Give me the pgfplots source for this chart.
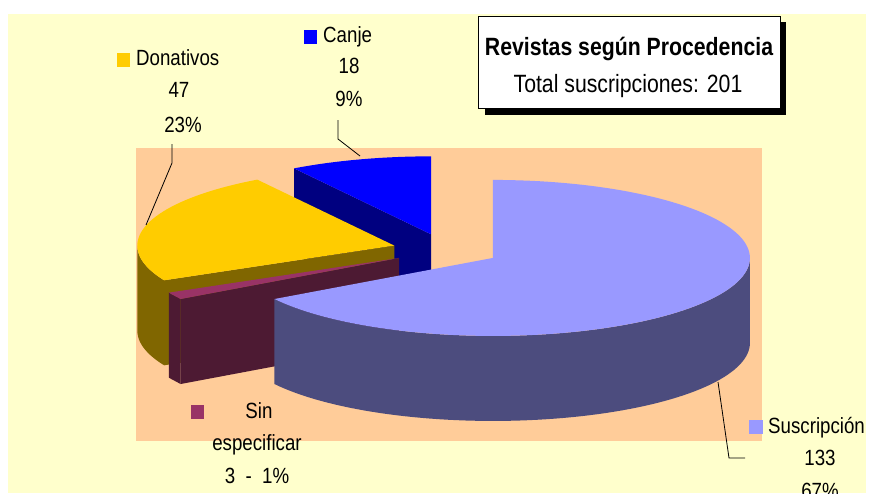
\documentclass[border=0pt]{standalone}
\usepackage{pgfplots}
\pgfplotsset{compat=1.18}
\usepackage{fontspec}
\setmainfont{Liberation Sans}[FakeStretch=0.85]
\definecolor{bgY}{HTML}{FFFFCC}
\definecolor{plotO}{HTML}{FFCC99}
\definecolor{suTop}{HTML}{9999FF}
\definecolor{suSide}{HTML}{4C4C7E}
\definecolor{caTop}{HTML}{0000FF}
\definecolor{caSide}{HTML}{000080}
\definecolor{doTop}{HTML}{FFCC00}
\definecolor{doSide}{HTML}{806600}
\definecolor{siTop}{HTML}{993366}
\definecolor{siSide}{HTML}{4D1A33}
% rim point of a slice: apex x, apex y, angle, vertical drop
\newcommand\rim[4]{({#1+\Rx*cos(#3)},{#2-\Ry*sin(#3)+#4})}
\begin{document}
\begin{tikzpicture}
% data: Canje, Donativos, Sin especificar, Suscripcion
\def\vCa{18}\def\vDo{47}\def\vSi{3}\def\vSu{133}
\pgfmathsetmacro\tot{\vCa+\vDo+\vSi+\vSu}
\pgfmathsetmacro\aA{90}
\pgfmathsetmacro\aB{\aA+\vCa/\tot*360}
\pgfmathsetmacro\aC{\aB+\vDo/\tot*360}
\pgfmathsetmacro\aD{\aC+\vSi/\tot*360}
\pgfmathsetmacro\aE{\aD+\vSu/\tot*360}
\pgfmathsetmacro\aAs{\aA+2}
\pgfmathsetmacro\aAss{\aA+4}
\pgfmathsetmacro\aBs{\aB+2}
\pgfmathsetmacro\aBss{\aB+4}
\pgfmathsetmacro\aCs{\aC+1}
\pgfmathsetmacro\aCm{\aC-2}
\pgfmathsetmacro\aCmm{\aC-4}
\pgfmathsetmacro\aDs{\aD+2}
\pgfmathsetmacro\aDss{\aD+4}
\def\Rx{257}\def\Ry{78}\def\Hd{85}\def\Ex{0.209}\def\Cx{446}\def\Cy{250}
\pgfmathsetmacro\CaX{\Cx+\Ex*\Rx*cos((\aA+\aB)/2)}
\pgfmathsetmacro\CaY{\Cy-\Ex*\Ry*sin((\aA+\aB)/2)}
\pgfmathsetmacro\DoX{\Cx+\Ex*\Rx*cos((\aB+\aC)/2)}
\pgfmathsetmacro\DoY{\Cy-\Ex*\Ry*sin((\aB+\aC)/2)}
\pgfmathsetmacro\SiX{\Cx+\Ex*\Rx*cos((\aC+\aD)/2)}
\pgfmathsetmacro\SiY{\Cy-\Ex*\Ry*sin((\aC+\aD)/2)}
\pgfmathsetmacro\SuX{\Cx+\Ex*\Rx*cos((\aD+\aE)/2)}
\pgfmathsetmacro\SuY{\Cy-\Ex*\Ry*sin((\aD+\aE)/2)}
\path[use as bounding box] (0,0) rectangle (872pt,493pt);
\begin{scope}
\clip (0,0) rectangle (872pt,493pt);
\begin{axis}[at={(0,0)},anchor=south west,scale only axis,width=872pt,height=493pt,
  xmin=0,xmax=872,ymin=0,ymax=493,y dir=reverse,hide axis,clip=false]
\fill[bgY] (8,14) rectangle (866,493);
\fill[plotO] (136,148) rectangle (762,441);
% ---- Canje
\fill[caSide] (\CaX,\CaY) -- \rim{\CaX}{\CaY}{\aB}{0} -- \rim{\CaX}{\CaY}{\aB}{\Hd} -- (\CaX,{\CaY+\Hd}) -- cycle;
\fill[caTop] (\CaX,\CaY) -- \rim{\CaX}{\CaY}{\aA}{0} \foreach \ang in {\aAs,\aAss,...,\aB} { -- \rim{\CaX}{\CaY}{\ang}{0} } -- \rim{\CaX}{\CaY}{\aB}{0} -- cycle;
% ---- Donativos
\fill[doSide] (\DoX,\DoY) -- \rim{\DoX}{\DoY}{\aC}{0} -- \rim{\DoX}{\DoY}{\aC}{\Hd} -- (\DoX,{\DoY+\Hd}) -- cycle;
\fill[doSide] \rim{\DoX}{\DoY}{180}{0} \foreach \ang in {182,184,...,\aC} { -- \rim{\DoX}{\DoY}{\ang}{0} } -- \rim{\DoX}{\DoY}{\aC}{0}
   -- \rim{\DoX}{\DoY}{\aC}{\Hd} \foreach \ang in {\aCm,\aCmm,...,180} { -- \rim{\DoX}{\DoY}{\ang}{\Hd} } -- \rim{\DoX}{\DoY}{180}{\Hd} -- cycle;
\fill[doTop] (\DoX,\DoY) -- \rim{\DoX}{\DoY}{\aB}{0} \foreach \ang in {\aBs,\aBss,...,\aC} { -- \rim{\DoX}{\DoY}{\ang}{0} } -- \rim{\DoX}{\DoY}{\aC}{0} -- cycle;
% ---- Sin especificar
\fill[siSide] \rim{\SiX}{\SiY}{\aC}{0} -- \rim{\SiX}{\SiY}{\aCs}{0} -- \rim{\SiX}{\SiY}{\aD}{0} -- \rim{\SiX}{\SiY}{\aD}{\Hd} -- \rim{\SiX}{\SiY}{\aCs}{\Hd} -- \rim{\SiX}{\SiY}{\aC}{\Hd} -- cycle;
\fill[siSide] (\SiX,\SiY) -- \rim{\SiX}{\SiY}{\aD}{0} -- \rim{\SiX}{\SiY}{\aD}{\Hd} -- (\SiX,{\SiY+\Hd}) -- cycle;
\fill[siTop] (\SiX,\SiY) -- \rim{\SiX}{\SiY}{\aC}{0} -- \rim{\SiX}{\SiY}{\aCs}{0} -- \rim{\SiX}{\SiY}{\aD}{0} -- cycle;
% ---- Suscripcion
\fill[suSide] \rim{\SuX}{\SuY}{\aD}{0} \foreach \ang in {\aDs,\aDss,...,360} { -- \rim{\SuX}{\SuY}{\ang}{0} } -- \rim{\SuX}{\SuY}{360}{0}
   -- \rim{\SuX}{\SuY}{360}{\Hd} \foreach \ang in {358,356,...,\aD} { -- \rim{\SuX}{\SuY}{\ang}{\Hd} } -- \rim{\SuX}{\SuY}{\aD}{\Hd} -- cycle;
\fill[suTop] (\SuX,\SuY) -- \rim{\SuX}{\SuY}{\aD}{0} \foreach \ang in {\aDs,\aDss,...,\aE} { -- \rim{\SuX}{\SuY}{\ang}{0} } -- \rim{\SuX}{\SuY}{\aE}{0} -- cycle;
% ---- leader lines
\draw[black,line width=0.8pt] (172,144) -- (172,163) -- (146,225);
\draw[black,line width=0.8pt] (338,120) -- (338,139) -- (360,156);
\draw[black,line width=0.8pt] (718,382) -- (729,458) -- (745,458);
% ---- title box
\fill[black] (485,22) rectangle (786,115);
\filldraw[fill=white,draw=black,line width=0.8pt] (478,16) rectangle (780,108);
\node[font=\fontsize{25}{30}\selectfont\bfseries,anchor=base] at (629,55) {Revistas según Procedencia};
\node[font=\fontsize{25}{30}\selectfont,anchor=base] at (628,92) {Total suscripciones: 201};
% ---- labels
\fill[doTop] (117,53) rectangle (130,67);
\node[font=\fontsize{22}{26}\selectfont,anchor=base west,inner sep=0pt] at (136,65) {Donativos};
\node[font=\fontsize{22}{26}\selectfont,anchor=base,inner sep=0pt] at (179,97) {47};
\node[font=\fontsize{22}{26}\selectfont,anchor=base,inner sep=0pt] at (183,132) {23\%};
\fill[caTop] (304,30) rectangle (317,44);
\node[font=\fontsize{22}{26}\selectfont,anchor=base west,inner sep=0pt] at (323,42) {Canje};
\node[font=\fontsize{22}{26}\selectfont,anchor=base,inner sep=0pt] at (349,73) {18};
\node[font=\fontsize{22}{26}\selectfont,anchor=base,inner sep=0pt] at (349,106) {9\%};
\fill[siTop] (191,405) rectangle (204,419);
\node[font=\fontsize{22}{26}\selectfont,anchor=base,inner sep=0pt] at (259,418) {Sin};
\node[font=\fontsize{22}{26}\selectfont,anchor=base,inner sep=0pt] at (257,450) {especificar};
\node[font=\fontsize{22}{26}\selectfont,anchor=base,inner sep=0pt] at (257,483) {3 \ - \ 1\%};
\fill[suTop] (749,420) rectangle (763,434);
\node[font=\fontsize{22}{26}\selectfont,anchor=base west,inner sep=0pt] at (768,433) {Suscripción};
\node[font=\fontsize{22}{26}\selectfont,anchor=base,inner sep=0pt] at (820,465) {133};
\node[font=\fontsize{22}{26}\selectfont,anchor=base,inner sep=0pt] at (820,498) {67\%};
\end{axis}
\end{scope}
\end{tikzpicture}
\end{document}
